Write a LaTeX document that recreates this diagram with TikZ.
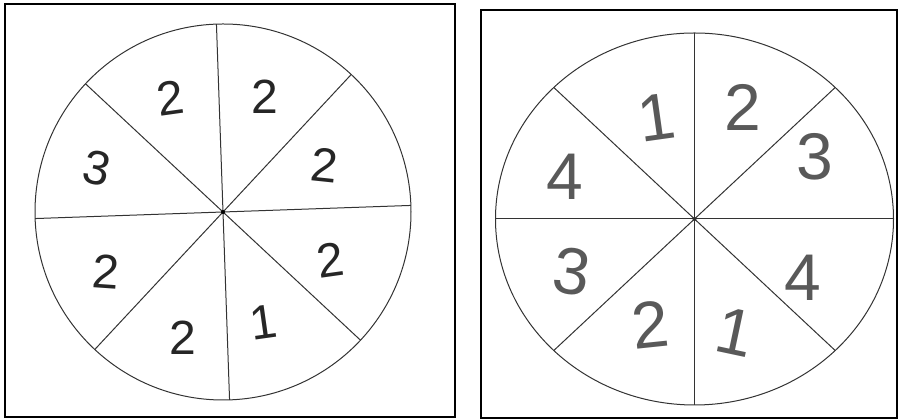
\documentclass[tikz,border=0pt]{standalone}
\usepackage{fontspec}
\setsansfont{Liberation Sans}
\usepackage{tikz}
\usetikzlibrary{positioning}

\begin{document}
\begin{tikzpicture}[x=1pt, y=1pt,
    frame/.style={draw=black, line width=2.2pt},
    spoke/.style={draw=black!80, line width=1pt},
    smalldigit/.style={font=\sffamily\fontsize{48}{48}\selectfont, text=black!85, inner sep=0pt},
    bigdigit/.style={font=\sffamily\fontsize{66}{66}\selectfont, text=black!65, inner sep=0pt}]
    \useasboundingbox (0,0) rectangle (898,419);

    % Khung hai vòng quay
    \draw[frame] (5,2) rectangle (455,415);
    \draw[frame] (481,1) rectangle (897,409);

    % Vòng quay thứ nhất
    \coordinate (cA) at (223,207);
    \draw[spoke] (cA) circle (188);
    \draw[spoke, shift={(cA)}] (2:188) -- (182:188);
    \draw[spoke, shift={(cA)}] (47:188) -- (227:188);
    \draw[spoke, shift={(cA)}] (92:188) -- (272:188);
    \draw[spoke, shift={(cA)}] (137:188) -- (317:188);
    \fill[black] (cA) circle (2);

    \node[smalldigit, rotate=8] (a1) at (170,321) {2};
    \node[smalldigit] (a2) at (265,322) {2};
    \node[smalldigit, rotate=-6] (a3) at (325,254) {2};
    \node[smalldigit, rotate=-12] (a4) at (97,251) {3};
    \node[smalldigit, rotate=-4] (a5) at (106,147) {2};
    \node[smalldigit] (a6) at (183,81) {2};
    \node[smalldigit, rotate=8] (a7) at (263,97) {1};
    \node[smalldigit, rotate=8] (a8) at (330,159) {2};

    % Vòng quay thứ hai
    \coordinate (cB) at (694.5,200);
    \draw[spoke] (cB) ellipse (199 and 186);
    \draw[spoke, shift={(cB)}] (0:199 and 186) -- (180:199 and 186);
    \draw[spoke, shift={(cB)}] (45:199 and 186) -- (225:199 and 186);
    \draw[spoke, shift={(cB)}] (90:199 and 186) -- (270:199 and 186);
    \draw[spoke, shift={(cB)}] (135:199 and 186) -- (315:199 and 186);
    \fill[black!80] (cB) circle (2);

    \node[bigdigit, rotate=8] (b1) at (657,302) {1};
    \node[bigdigit] (b2) at (743,312) {2};
    \node[bigdigit] (b3) at (815,262) {3};
    \node[bigdigit] (b4) at (565,242) {4};
    \node[bigdigit, rotate=-8] (b5) at (572,147) {3};
    \node[bigdigit, rotate=6] (b6) at (650,94) {2};
    \node[bigdigit, rotate=-12] (b7) at (735,87) {1};
    \node[bigdigit] (b8) at (803,141) {4};
\end{tikzpicture}
\end{document}
